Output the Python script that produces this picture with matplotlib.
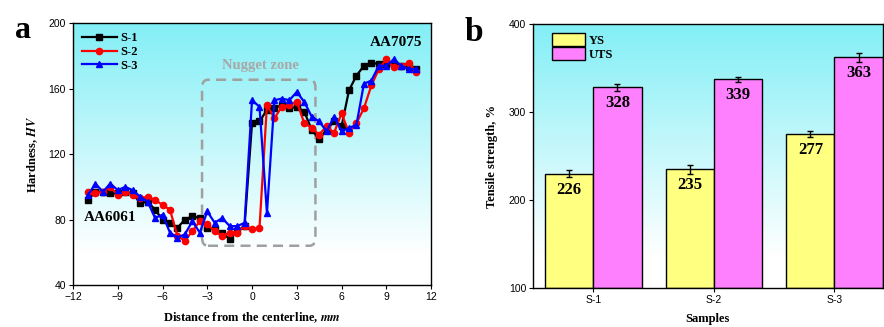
import numpy as np
import matplotlib
matplotlib.use("Agg")
import matplotlib.pyplot as plt
from matplotlib.patches import FancyBboxPatch
from matplotlib.colors import LinearSegmentedColormap

# ---------------- data ----------------
distance = [-11, -10.5, -10, -9.5, -9, -8.5, -8, -7.5, -7, -6.5, -6, -5.5, -5, -4.5, -4, -3.5,
            -3, -2.5, -2, -1.5, -1, -0.5, 0, 0.5, 1, 1.5, 2, 2.5, 3, 3.5, 4, 4.5, 5, 5.5,
            6, 6.5, 7, 7.5, 8, 8.5, 9, 9.5, 10, 10.5, 11]
hv_s1 = [92, 97, 97, 96, 96, 97, 96, 90, 91, 86, 80, 78, 75, 80, 82, 81,
         75, 74, 72, 68, 73, 76, 139, 140, 147, 148, 150, 148, 149, 146, 135, 129, 135, 140,
         137, 159, 168, 174, 176, 175, 175, 175, 174, 173, 172]
hv_s2 = [97, 96, 97, 100, 95, 97, 95, 93, 94, 92, 89, 86, 70, 67, 73, 79,
         77, 73, 70, 72, 72, 76, 74, 75, 150, 142, 149, 150, 152, 139, 136, 132, 137, 133,
         145, 133, 139, 148, 162, 172, 178, 173, 174, 176, 170]
hv_s3 = [95, 102, 97, 102, 98, 100, 98, 94, 91, 81, 83, 72, 69, 71, 79, 72,
         85, 78, 81, 76, 76, 78, 153, 149, 84, 153, 154, 153, 158, 152, 143, 140, 134, 143,
         134, 136, 138, 163, 165, 174, 174, 178, 174, 172, 172]
series_names = ["S-1", "S-2", "S-3"]

samples = ["S-1", "S-2", "S-3"]
ys_vals = [230, 235, 275]
uts_vals = [328, 337, 362]
ys_err = [4, 5, 3]
uts_err = [4, 3, 5]
ys_labels = ["226", "235", "277"]
uts_labels = ["328", "339", "363"]

# ---------------- style ----------------
serif = ["Liberation Serif", "DejaVu Serif"]
sans = ["Liberation Sans", "DejaVu Sans"]
plt.rcParams["font.family"] = sans
plt.rcParams["mathtext.fontset"] = "stix"
plt.rcParams["xtick.labelsize"] = 7.5
plt.rcParams["ytick.labelsize"] = 7.5

cyan_white = LinearSegmentedColormap.from_list("cw", [(0, "#ffffff"), (0.12, "#ffffff"), (1, "#82eff6")])

def gradient_bg(ax):
    grad = np.linspace(0, 1, 256).reshape(-1, 1)
    ax.imshow(grad, cmap=cyan_white, origin="lower", aspect="auto",
              extent=[0, 1, 0, 1], transform=ax.transAxes, zorder=0)

fig = plt.figure(figsize=(8.84, 3.27), dpi=100)

# ---------------- panel a ----------------
ax1 = fig.add_axes([0.0826, 0.1284, 0.405, 0.8003])
gradient_bg(ax1)
colors = ["black", "#ff0000", "#0000ff"]
markers = ["s", "o", "^"]
for vals, c, m, name in zip([hv_s1, hv_s2, hv_s3], colors, markers, series_names):
    ax1.plot(distance, vals, color=c, marker=m, markersize=4.5, lw=1.6, label=name, zorder=3)
ax1.set_xlim(-12, 12)
ax1.set_ylim(40, 200)
ax1.set_xticks(np.arange(-12, 13, 3))
ax1.set_yticks(np.arange(40, 201, 40))
ax1.tick_params(direction="out", length=3, width=0.8, pad=2)
ax1.set_xlabel("Distance from the centerline, $\\mathbfit{mm}$", fontfamily=serif,
               fontweight="bold", fontsize=9, labelpad=6)
ax1.set_ylabel("Hardness, $\\mathbfit{HV}$", fontfamily=serif, fontweight="bold", fontsize=9, labelpad=6)
box = FancyBboxPatch((-3.35, 64), 7.6, 101.5, boxstyle="round,pad=0,rounding_size=0.4",
                     fill=False, edgecolor="#a0a0a0", lw=1.8, ls=(0, (4, 2.5)), zorder=2,
                     mutation_aspect=12)
ax1.add_patch(box)
ax1.text(0.55, 174.5, "Nugget zone", ha="center", va="center", color="#a8a8a8",
         fontfamily=serif, fontweight="bold", fontsize=10.5, zorder=4)
ax1.text(-11.3, 81.5, "AA6061", ha="left", va="center", fontfamily=serif,
         fontweight="bold", fontsize=11, zorder=4)
ax1.text(11.4, 188, "AA7075", ha="right", va="center", fontfamily=serif,
         fontweight="bold", fontsize=11, zorder=4)
leg = ax1.legend(loc="upper left", frameon=False, prop={"family": serif, "weight": "bold", "size": 9},
                 handlelength=2.8, handletextpad=0.3, labelspacing=0.15, borderaxespad=0.3,
                 bbox_to_anchor=(0.0, 1.0))
for s in ax1.spines.values():
    s.set_linewidth(1.0)
fig.text(0.017, 0.885, "a", fontfamily=serif, fontweight="bold", fontsize=23)

# ---------------- panel b ----------------
ax2 = fig.add_axes([0.603, 0.119, 0.3955, 0.8076])
gradient_bg(ax2)
x = np.arange(len(samples))
w = 0.4
b1 = ax2.bar(x - w / 2, [v - 100 for v in ys_vals], w, bottom=100, color="#ffff80",
             edgecolor="black", lw=1.0, label="YS", zorder=2)
b2 = ax2.bar(x + w / 2, [v - 100 for v in uts_vals], w, bottom=100, color="#ff80ff",
             edgecolor="black", lw=1.0, label="UTS", zorder=2)
ax2.errorbar(x - w / 2, ys_vals, yerr=ys_err, fmt="none", ecolor="black", elinewidth=1.0,
             capsize=2.5, capthick=1.0, zorder=3)
ax2.errorbar(x + w / 2, uts_vals, yerr=uts_err, fmt="none", ecolor="black", elinewidth=1.0,
             capsize=2.5, capthick=1.0, zorder=3)
for xi, v, lab in zip(x - w / 2, ys_vals, ys_labels):
    ax2.text(xi, v - 9, lab, ha="center", va="top", fontfamily=serif, fontweight="bold",
             fontsize=12, zorder=4)
for xi, v, lab in zip(x + w / 2, uts_vals, uts_labels):
    ax2.text(xi, v - 9, lab, ha="center", va="top", fontfamily=serif, fontweight="bold",
             fontsize=12, zorder=4)
ax2.set_xlim(-0.5, 2.4)
ax2.set_ylim(100, 400)
ax2.set_xticks(x)
ax2.set_xticklabels(samples)
ax2.set_yticks([100, 200, 300, 400])
ax2.tick_params(direction="out", length=3, width=0.8, pad=2)
ax2.set_xlabel("Samples", fontfamily=serif, fontweight="bold", fontsize=9, labelpad=6)
ax2.set_ylabel("Tensile strength, %", fontfamily=serif, fontweight="bold", fontsize=9, labelpad=8)
ax2.legend(loc="upper left", frameon=False, prop={"family": serif, "weight": "bold", "size": 9},
           handlelength=2.6, handleheight=1.3, handletextpad=0.3, labelspacing=0.0,
           borderaxespad=0.3, bbox_to_anchor=(0.03, 1.0))
for s in ax2.spines.values():
    s.set_linewidth(1.0)
fig.text(0.525, 0.875, "b", fontfamily=serif, fontweight="bold", fontsize=24)

fig.savefig("out.png", dpi=100)
